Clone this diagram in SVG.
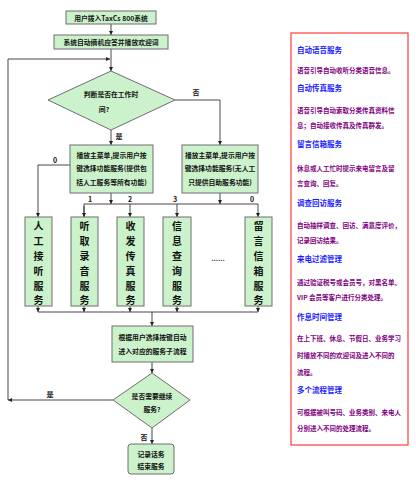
<svg xmlns="http://www.w3.org/2000/svg" width="416" height="482" viewBox="0 0 416 482">
<defs>
<style>
.box{fill:#ccf2cc;stroke:#6e6e6e;stroke-width:1}
.ln{fill:none;stroke:#333;stroke-width:0.9}
.t{font-family:"Noto Sans CJK SC","Liberation Sans",sans-serif;font-size:6.8px;font-weight:700;fill:#111;text-anchor:middle}
.v{font-family:"Noto Sans CJK SC","Liberation Sans",sans-serif;font-size:10px;font-weight:700;fill:#111;text-anchor:middle}
.lb{font-family:"Noto Sans CJK SC","Liberation Sans",sans-serif;font-size:7px;font-weight:700;fill:#111;text-anchor:middle}
.h{font-family:"Noto Sans CJK SC","Liberation Sans",sans-serif;font-size:7.5px;font-weight:700;fill:#1a1aff}
.d{font-family:"Noto Sans CJK SC","Liberation Sans",sans-serif;font-size:6.5px;font-weight:700;fill:#800080}
</style>
<marker id="a" viewBox="0 0 8 8" refX="8" refY="4" markerWidth="4" markerHeight="4" orient="auto" markerUnits="userSpaceOnUse"><path d="M0,0L8,4L0,8z" fill="#222"/></marker>
</defs>

<g id="connectors">
<path class="ln" d="M111,24V35" marker-end="url(#a)"/>
<path class="ln" d="M111,49V71" marker-end="url(#a)"/>
<path class="ln" d="M8,400V59H110" marker-end="url(#a)"/>
<path class="ln" d="M111,130V145" marker-end="url(#a)"/>
<path class="ln" d="M175,100H220V145" marker-end="url(#a)"/>
<path class="ln" d="M70,165H38V217" marker-end="url(#a)"/>
<path class="ln" d="M111,193V204" marker-end="url(#a)"/>
<path class="ln" d="M220,193V204" marker-end="url(#a)"/>
<path class="ln" d="M84,217V204H258V217" marker-end="url(#a)"/>
<path class="ln" d="M84,206V217" marker-end="url(#a)"/>
<path class="ln" d="M130,204V217" marker-end="url(#a)"/>
<path class="ln" d="M177,204V217" marker-end="url(#a)"/>
<path class="ln" d="M38,306V312" marker-end="url(#a)"/>
<path class="ln" d="M84,306V312" marker-end="url(#a)"/>
<path class="ln" d="M130,306V312" marker-end="url(#a)"/>
<path class="ln" d="M177,306V312" marker-end="url(#a)"/>
<path class="ln" d="M258,306V312" marker-end="url(#a)"/>
<path class="ln" d="M38,312H258"/>
<path class="ln" d="M152,312V326" marker-end="url(#a)"/>
<path class="ln" d="M152,362V373" marker-end="url(#a)"/>
<path class="ln" d="M113,400H8" marker-end="url(#a)"/>
<path class="ln" d="M152,428V444" marker-end="url(#a)"/>
<text class="lb" x="196" y="95">否</text>
<text class="lb" x="119" y="139">是</text>
<text class="lb" x="55" y="163">0</text>
<text class="lb" x="90" y="202">1</text>
<text class="lb" x="130" y="202">2</text>
<text class="lb" x="175" y="202">3</text>
<text class="lb" x="252" y="202">0</text>
<text class="lb" x="50" y="397">是</text>
<text class="lb" x="144" y="440">否</text>
</g>

<g id="n1"><rect class="box" x="66" y="11" width="90" height="13"/><text class="t" x="111" y="20.5">用户拨入TaxCs 800系统</text></g>
<g id="n2"><rect class="box" x="54" y="35" width="114" height="14"/><text class="t" x="111" y="44.5">系统自动摘机应答并播放欢迎词</text></g>
<g id="n3"><path class="box" d="M111,71L175,100L111,130L48,100z"/><text class="t" x="111" y="96.5">判断是否在工作时</text><text class="t" x="104" y="112">间?</text></g>
<g id="n4"><rect class="box" x="70" y="145" width="83" height="48"/><text class="t" x="111.5" y="157.5">播放主菜单,提示用户按</text><text class="t" x="111.5" y="171">键选择功能服务(提供包</text><text class="t" x="111.5" y="184.5">括人工服务等所有功能)</text></g>
<g id="n5"><rect class="box" x="182" y="145" width="76" height="48"/><text class="t" x="220" y="157.5">播放主菜单,提示用户按</text><text class="t" x="220" y="171">键选择功能服务(无人工</text><text class="t" x="220" y="184.5">只提供自助服务功能)</text></g>
<g id="s1"><rect class="box" x="25" y="217" width="27" height="89"/><text class="v" x="38.5" y="230">人</text><text class="v" x="38.5" y="245">工</text><text class="v" x="38.5" y="260">接</text><text class="v" x="38.5" y="275">听</text><text class="v" x="38.5" y="290">服</text><text class="v" x="38.5" y="304">务</text></g>
<g id="s2"><rect class="box" x="71" y="217" width="27" height="89"/><text class="v" x="84.5" y="230">听</text><text class="v" x="84.5" y="245">取</text><text class="v" x="84.5" y="260">录</text><text class="v" x="84.5" y="275">音</text><text class="v" x="84.5" y="290">服</text><text class="v" x="84.5" y="304">务</text></g>
<g id="s3"><rect class="box" x="117" y="217" width="27" height="89"/><text class="v" x="130.5" y="230">收</text><text class="v" x="130.5" y="245">发</text><text class="v" x="130.5" y="260">传</text><text class="v" x="130.5" y="275">真</text><text class="v" x="130.5" y="290">服</text><text class="v" x="130.5" y="304">务</text></g>
<g id="s4"><rect class="box" x="163" y="217" width="28" height="89"/><text class="v" x="177" y="230">信</text><text class="v" x="177" y="245">息</text><text class="v" x="177" y="260">查</text><text class="v" x="177" y="275">询</text><text class="v" x="177" y="290">服</text><text class="v" x="177" y="304">务</text></g>
<g id="dots"><text class="lb" x="218" y="261">......</text></g>
<g id="s5"><rect class="box" x="245" y="217" width="27" height="89"/><text class="v" x="258.5" y="230">留</text><text class="v" x="258.5" y="245">言</text><text class="v" x="258.5" y="260">信</text><text class="v" x="258.5" y="275">箱</text><text class="v" x="258.5" y="290">服</text><text class="v" x="258.5" y="304">务</text></g>
<g id="n6"><rect class="box" x="112" y="326" width="81" height="36"/><text class="t" x="152.5" y="339.5">根据用户选择按键自动</text><text class="t" x="152.5" y="353.5">进入对应的服务子流程</text></g>
<g id="n7"><path class="box" d="M152,373L190,400L152,428L113,400z"/><text class="t" x="152" y="398.5">是否需要继续</text><text class="t" x="152" y="412">服务?</text></g>
<g id="n8"><rect class="box" x="128" y="444" width="46" height="30" rx="3"/><text class="t" x="151" y="456.5">记录话务</text><text class="t" x="151" y="469">结束服务</text></g>

<g id="panel">
<rect x="291" y="33" width="117" height="412" fill="#fff" stroke="#ff3b3b" stroke-width="1.2"/>
<text class="h" x="297" y="53">自动语音服务</text>
<text class="d" x="297" y="73">语音引导自动收听分类语音信息。</text>
<text class="h" x="297" y="91">自动传真服务</text>
<text class="d" x="297" y="112.5">语音引导自动索取分类传真资料信</text>
<text class="d" x="297" y="127.5">息；自动接收传真及传真群发。</text>
<text class="h" x="297" y="147">留言信箱服务</text>
<text class="d" x="297" y="170.5">休息或人工忙时提示来电留言及留</text>
<text class="d" x="297" y="185.5">言查询、回复。</text>
<text class="h" x="297" y="206">调查回访服务</text>
<text class="d" x="297" y="227.5">自动抽样调查、回访、满意度评价，</text>
<text class="d" x="297" y="242.5">记录回访结果。</text>
<text class="h" x="297" y="262">来电过滤管理</text>
<text class="d" x="297" y="284.5">通过验证税号或会员号，对黑名单、</text>
<text class="d" x="297" y="299.5">VIP 会员等客户进行分类处理。</text>
<text class="h" x="297" y="320">作息时间管理</text>
<text class="d" x="297" y="340.5">在上下班、休息、节假日、业务学习</text>
<text class="d" x="297" y="357.5">时播放不同的欢迎词及进入不同的</text>
<text class="d" x="297" y="374.5">流程。</text>
<text class="h" x="297" y="393">多个流程管理</text>
<text class="d" x="297" y="414.5">可根据被叫号码、业务类别、来电人</text>
<text class="d" x="297" y="430.5">分别进入不同的处理流程。</text>
</g>
</svg>
